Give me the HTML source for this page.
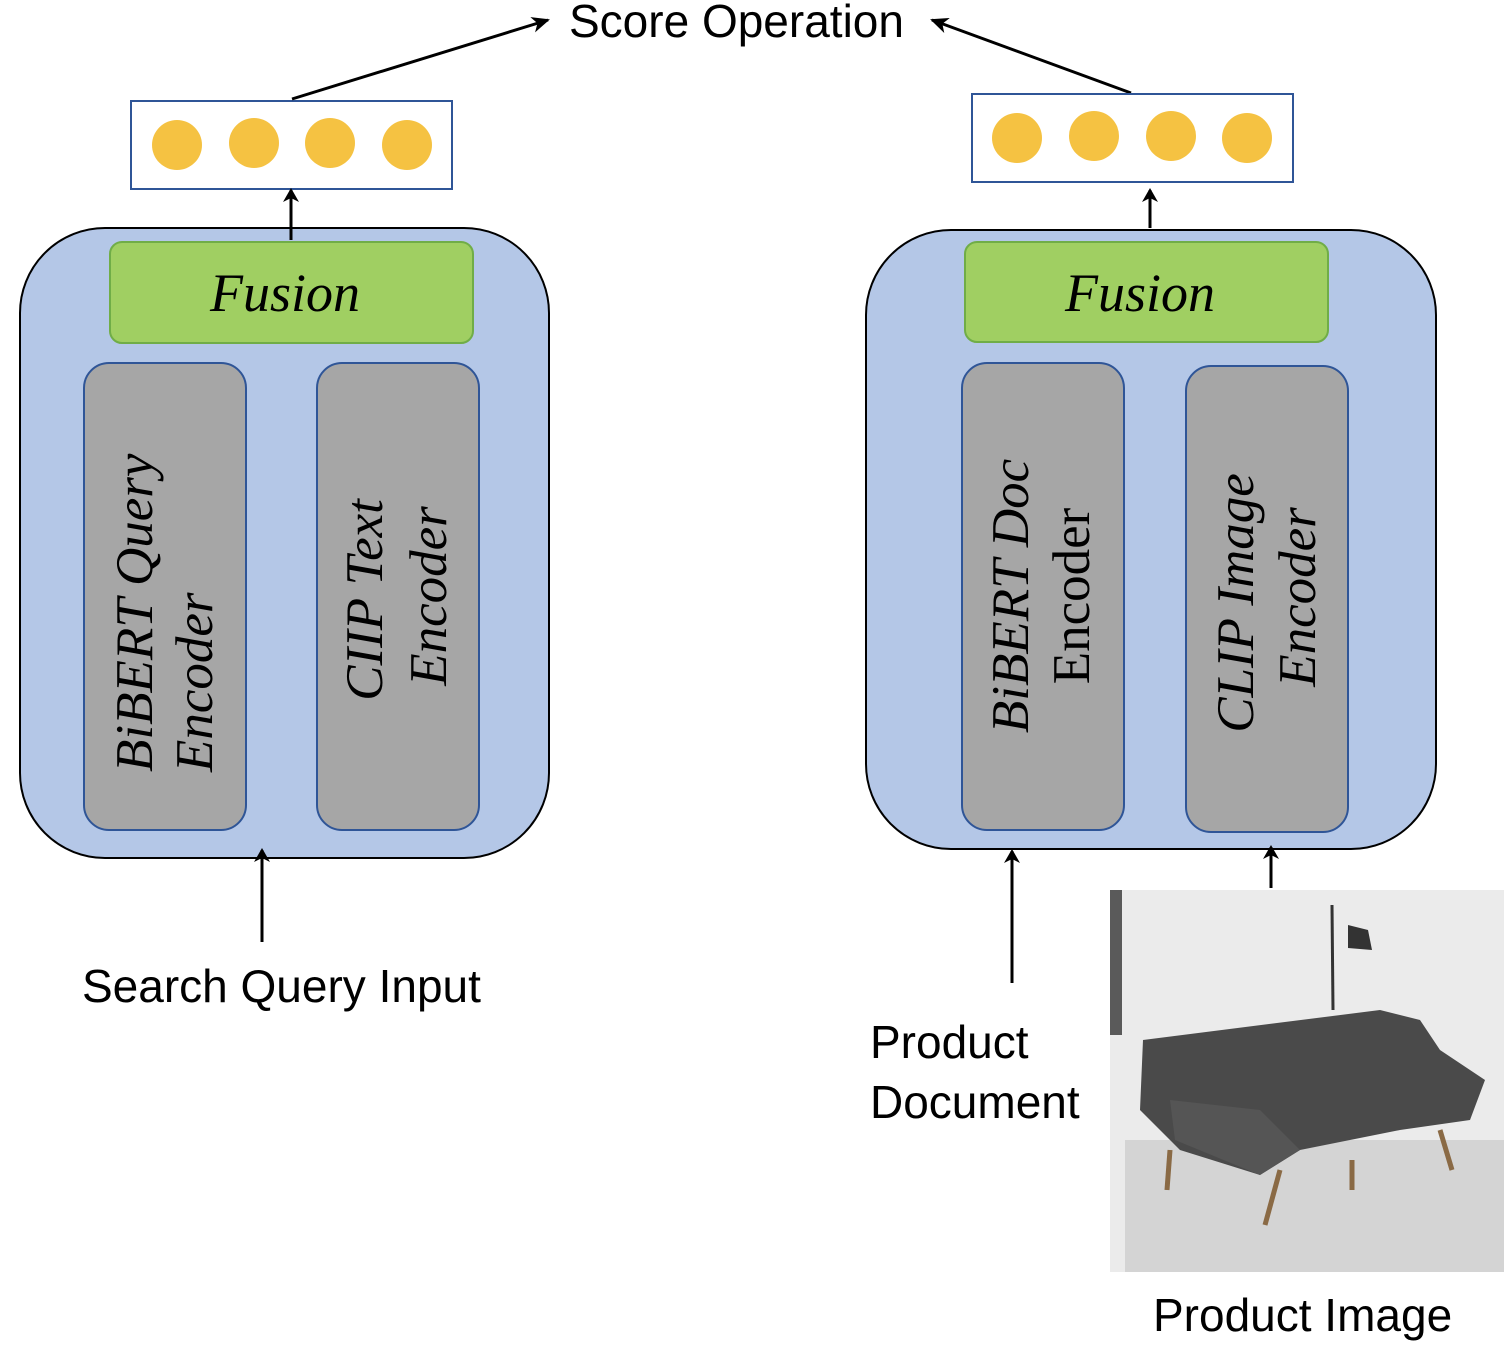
<!DOCTYPE html>
<html><head><meta charset="utf-8"><style>
html,body{margin:0;padding:0;background:#fff;}
svg{display:block;}
.s{font-family:"Liberation Sans",sans-serif;font-size:46px;fill:#000;}
.r{font-family:"Liberation Serif","DejaVu Serif",serif;font-style:italic;fill:#000;}
</style></head><body>
<svg width="1504" height="1346" viewBox="0 0 1504 1346" xmlns="http://www.w3.org/2000/svg">
<defs><marker id="a" markerWidth="14" markerHeight="16" refX="12" refY="8" orient="auto" markerUnits="userSpaceOnUse"><path d="M0,0 L14,8 L0,16 L4,8 z" fill="#000"/></marker>
<marker id="b" markerWidth="18" markerHeight="16" refX="16" refY="8" orient="auto" markerUnits="userSpaceOnUse"><path d="M0,0 L18,8 L0,16 L5,8 z" fill="#000"/></marker></defs>

<!-- left -->
<rect x="20" y="228" width="529" height="630" rx="85" fill="#b4c7e7" stroke="#000" stroke-width="2"/>
<rect x="110" y="242" width="363" height="101" rx="12" fill="#a0cf62" stroke="#70ad47" stroke-width="2"/>
<text class="r" x="285" y="311" font-size="54" text-anchor="middle">Fusion</text>
<rect x="84" y="363" width="162" height="467" rx="25" fill="#a6a6a6" stroke="#2f5597" stroke-width="2"/>
<rect x="317" y="363" width="162" height="467" rx="25" fill="#a6a6a6" stroke="#2f5597" stroke-width="2"/>
<text class="r" font-size="53" transform="translate(152,772) rotate(-90)">BiBERT Query</text>
<text class="r" font-size="53" transform="translate(212,772) rotate(-90)">Encoder</text>
<text class="r" font-size="53" text-anchor="middle" transform="translate(382,600) rotate(-90)">CIIP Text</text>
<text class="r" font-size="53" text-anchor="middle" transform="translate(446,596) rotate(-90)">Encoder</text>
<rect x="131" y="101" width="321" height="88" fill="#fff" stroke="#2f5597" stroke-width="2"/>
<g fill="#f5c242"><circle cx="177" cy="145" r="25"/><circle cx="254" cy="143" r="25"/><circle cx="330" cy="143" r="25"/><circle cx="407" cy="145" r="25"/></g>
<line x1="291" y1="240" x2="291" y2="190" stroke="#000" stroke-width="3" marker-end="url(#a)"/>
<line x1="262" y1="942" x2="262" y2="850" stroke="#000" stroke-width="3" marker-end="url(#a)"/>
<text class="s" x="82" y="1002">Search Query Input</text>

<!-- top -->
<line x1="292" y1="99" x2="548" y2="20" stroke="#000" stroke-width="3" marker-end="url(#b)"/>
<line x1="1131" y1="93" x2="932" y2="20" stroke="#000" stroke-width="3" marker-end="url(#b)"/>
<text class="s" x="569" y="37">Score Operation</text>

<!-- right -->
<rect x="866" y="230" width="570" height="619" rx="85" fill="#b4c7e7" stroke="#000" stroke-width="2"/>
<rect x="965" y="242" width="363" height="100" rx="12" fill="#a0cf62" stroke="#70ad47" stroke-width="2"/>
<text class="r" x="1140" y="311" font-size="54" text-anchor="middle">Fusion</text>
<rect x="962" y="363" width="162" height="467" rx="25" fill="#a6a6a6" stroke="#2f5597" stroke-width="2"/>
<rect x="1186" y="366" width="162" height="466" rx="25" fill="#a6a6a6" stroke="#2f5597" stroke-width="2"/>
<text class="r" font-size="53" text-anchor="middle" transform="translate(1028,596) rotate(-90)">BiBERT Doc</text>
<text class="r" font-size="53" style="font-style:normal" text-anchor="middle" transform="translate(1089,596) rotate(-90)">Encoder</text>
<text class="r" font-size="53" text-anchor="middle" transform="translate(1253,603) rotate(-90)">CLIP Image</text>
<text class="r" font-size="53" text-anchor="middle" transform="translate(1315,597) rotate(-90)">Encoder</text>
<rect x="972" y="94" width="321" height="88" fill="#fff" stroke="#2f5597" stroke-width="2"/>
<g fill="#f5c242"><circle cx="1017" cy="138" r="25"/><circle cx="1094" cy="136" r="25"/><circle cx="1171" cy="136" r="25"/><circle cx="1247" cy="138" r="25"/></g>
<line x1="1150" y1="228" x2="1150" y2="190" stroke="#000" stroke-width="3" marker-end="url(#a)"/>
<line x1="1012" y1="983" x2="1012" y2="851" stroke="#000" stroke-width="3" marker-end="url(#a)"/>
<line x1="1271" y1="888" x2="1271" y2="847" stroke="#000" stroke-width="3" marker-end="url(#a)"/>
<text class="s" x="870" y="1058">Product</text>
<text class="s" x="870" y="1118">Document</text>

<!-- image -->
<rect x="1110" y="890" width="394" height="382" fill="#ebebeb"/>
<rect x="1110" y="890" width="12" height="145" fill="#5a5a5a"/>
<rect x="1125" y="1140" width="379" height="132" fill="#d4d4d4"/>
<line x1="1332" y1="905" x2="1333" y2="1010" stroke="#333" stroke-width="3"/>
<path d="M1348,925 L1368,930 L1372,950 L1348,948 z" fill="#333"/>
<path d="M1143,1040 L1380,1010 L1420,1020 L1440,1050 L1485,1080 L1470,1120 L1400,1130 L1300,1150 L1260,1175 L1180,1150 L1140,1110 z" fill="#4a4a4a"/>
<path d="M1170,1100 L1260,1110 L1300,1150 L1260,1175 L1175,1140 z" fill="#555"/>
<g stroke="#8a6a45" stroke-width="5"><line x1="1170" y1="1150" x2="1167" y2="1190"/><line x1="1280" y1="1170" x2="1265" y2="1225"/><line x1="1352" y1="1160" x2="1352" y2="1190"/><line x1="1440" y1="1130" x2="1452" y2="1170"/></g>
<text class="s" x="1153" y="1331">Product Image</text>
</svg>
</body></html>
